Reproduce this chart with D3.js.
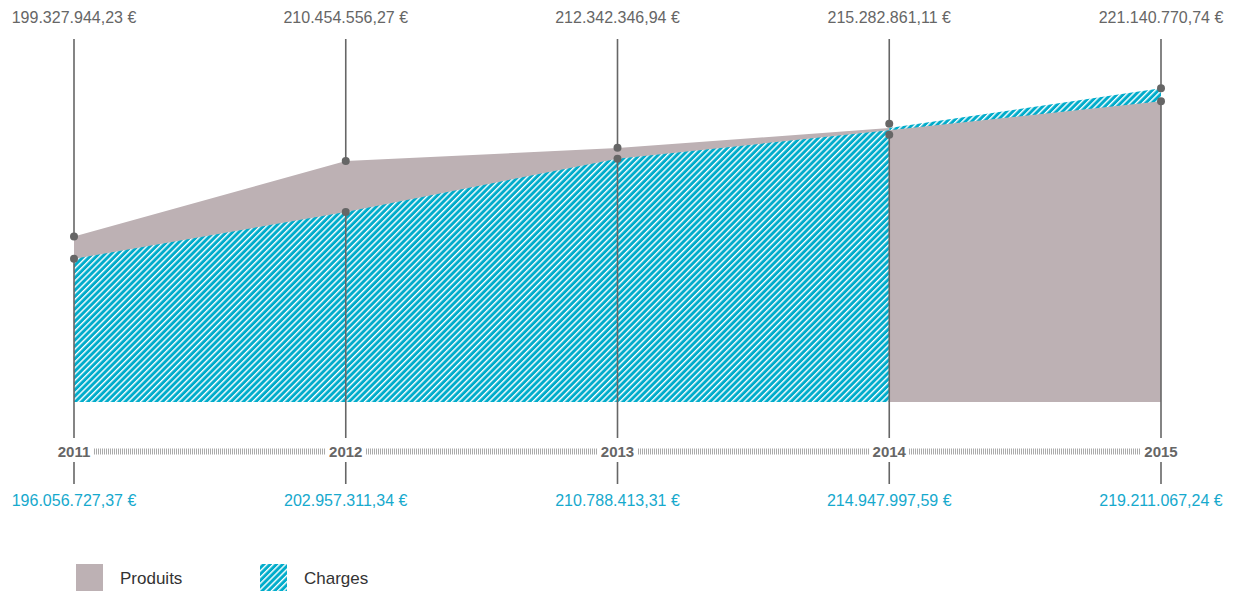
<!DOCTYPE html>
<html lang="fr">
<head>
    <meta charset="UTF-8">
    <title>Produits et charges 2011-2015</title>
    <script src="https://d3js.org/d3.v7.min.js"></script>
    <style>
        body { margin: 0; background: #fff; }
        text { font-family: "Liberation Sans", Arial, sans-serif; }
    </style>
</head>
<body>
    <svg width="1233" height="591"></svg>

    <script>
        // values
        const years = ["2011", "2012", "2013", "2014", "2015"];
        const produits = [199327944.23, 210454556.27, 212342346.94, 215282861.11, 221140770.74];
        const charges = [196056727.37, 202957311.34, 210788413.31, 214947997.59, 219211067.24];
        const legendLabels = ["Produits", "Charges"];

        const grey = "#bdb1b4";
        const blue = "#00accb";
        const ink = "#666";

        const svg = d3.select("svg");
        const data = years.map((y, i) => ({ year: y, p: produits[i], c: charges[i] }));

        const x = d3.scalePoint().domain(years).range([74, 1161]);
        const y = d3.scaleLinear().domain([175e6, 225e6]).range([402, 62]);

        const fmt = d3.formatLocale({ decimal: ",", thousands: ".", grouping: [3], currency: ["", " €"] }).format("$,.2f");

        // hatch pattern
        const defs = svg.append("defs");
        const pat = defs.append("pattern")
            .attr("id", "hatch")
            .attr("patternUnits", "userSpaceOnUse")
            .attr("width", 4.4).attr("height", 4.4)
            .attr("patternTransform", "rotate(45)");
        pat.append("rect").attr("width", 4.4).attr("height", 4.4).attr("fill", blue);
        pat.append("rect").attr("width", 1.4).attr("height", 4.4).attr("fill", "#fff");

        // clip the plot into the part before 2014 and the last segment
        const split = x("2014");
        defs.append("clipPath").attr("id", "left")
            .append("rect").attr("x", 0).attr("y", 0).attr("width", split).attr("height", 591);
        defs.append("clipPath").attr("id", "right")
            .append("rect").attr("x", split).attr("y", 0).attr("width", 1233 - split).attr("height", 591);

        const area = key => d3.area()
            .x(d => x(d.year))
            .y0(y.range()[0])
            .y1(d => y(d[key]));

        const left = svg.append("g").attr("clip-path", "url(#left)");
        left.append("path").datum(data).attr("d", area("p")).attr("fill", grey);
        left.append("path").datum(data).attr("d", area("c")).attr("fill", "url(#hatch)");

        const right = svg.append("g").attr("clip-path", "url(#right)");
        right.append("path").datum(data).attr("d", area("p")).attr("fill", "url(#hatch)");
        right.append("path").datum(data).attr("d", area("c")).attr("fill", grey);

        // dot positions, pushed apart when too close
        data.forEach(d => {
            let yp = y(d.p), yc = y(d.c);
            const gap = 11;
            if (yc - yp < gap) {
                const mid = (yp + yc) / 2;
                yp = mid - gap / 2;
                yc = mid + gap / 2;
            }
            d.yp = yp; d.yc = yc;
        });

        const cols = svg.append("g").selectAll("g").data(data).join("g")
            .attr("transform", d => `translate(${x(d.year)},0)`);

        cols.append("line").attr("y1", 39).attr("y2", d => d.yp)
            .attr("stroke", ink).attr("stroke-width", 1.6);
        cols.append("line").attr("y1", d => d.yc).attr("y2", 438)
            .attr("stroke", ink).attr("stroke-width", 1.6);
        cols.append("line").attr("y1", 462).attr("y2", 484)
            .attr("stroke", ink).attr("stroke-width", 1.6);

        cols.append("circle").attr("cy", d => d.yp).attr("r", 4).attr("fill", ink);
        cols.append("circle").attr("cy", d => d.yc).attr("r", 4).attr("fill", ink);

        cols.append("text")
            .attr("y", 23)
            .attr("text-anchor", "middle")
            .attr("font-size", 16)
            .attr("fill", ink)
            .text(d => fmt(d.p));

        cols.append("text")
            .attr("y", 506)
            .attr("text-anchor", "middle")
            .attr("font-size", 16)
            .attr("fill", "#16a9cd")
            .text(d => fmt(d.c));

        cols.append("text")
            .attr("y", 456.5)
            .attr("text-anchor", "middle")
            .attr("font-size", 15)
            .attr("font-weight", "bold")
            .attr("fill", ink)
            .text(d => d.year);

        // dotted axis between the year labels
        svg.append("g").selectAll("line").data(d3.pairs(years)).join("line")
            .attr("x1", d => Math.round(x(d[0]) + 20))
            .attr("x2", d => Math.round(x(d[1]) - 20))
            .attr("y1", 451.5).attr("y2", 451.5)
            .attr("stroke", "#aaa")
            .attr("stroke-width", 6)
            .attr("stroke-dasharray", "1,1");

        // legend
        const legend = svg.append("g").selectAll("g").data(legendLabels).join("g")
            .attr("transform", (d, i) => `translate(${76 + i * 184},564)`);
        legend.append("rect").attr("width", 27).attr("height", 27)
            .attr("fill", (d, i) => i === 0 ? grey : "url(#hatch)");
        legend.append("text")
            .attr("x", 44).attr("y", 20)
            .attr("font-size", 17)
            .attr("fill", "#333")
            .text(d => d);
    </script>
</body>
</html>
